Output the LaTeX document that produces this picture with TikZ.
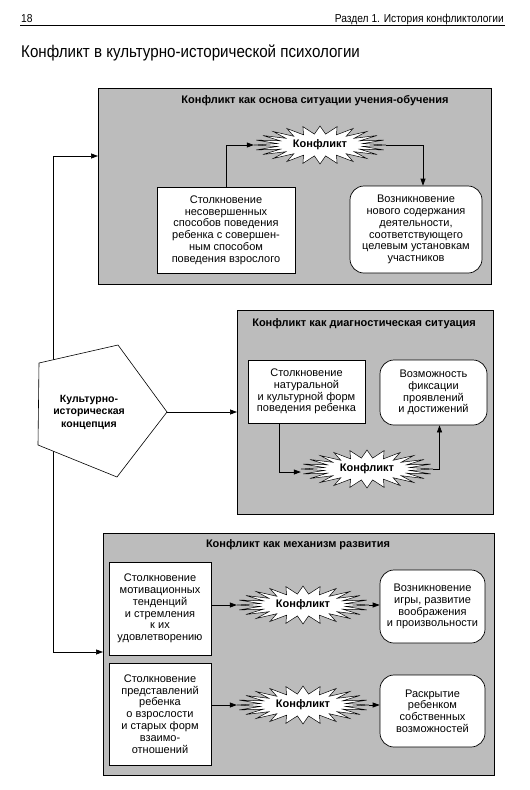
\documentclass[tikz,border=0pt]{standalone}
\usepackage{fontspec}
\setmainfont{Liberation Sans}
\newfontfamily\narrowfont{Liberation Sans}[FakeStretch=0.89]
\usetikzlibrary{calc,arrows.meta}

\definecolor{panelgray}{RGB}{188,188,188}

% starburst behind a "Конфликт" node
\newcommand{\burst}[1]{%
  \draw[burstline] ($(#1)+(0:66pt and 19pt)$)
    \foreach \a in {0,15,...,345} {
      -- ($(#1)+(\a+7.5:43pt and 11pt)$) -- ($(#1)+(\a+15:66pt and 19pt)$)
    } -- cycle;}

\begin{document}
\begin{tikzpicture}[x=1pt,y=-1pt]
    \tikzstyle{panel}=[draw=black,fill=panelgray,line width=1.1pt,anchor=north west,inner sep=0pt]
    \tikzstyle{ptitle}=[font=\bfseries\fontsize{11}{12}\selectfont]
    \tikzstyle{sqbox}=[draw=black,fill=white,line width=0.7pt,align=center,inner sep=0pt,
                       font=\fontsize{11}{11.8}\selectfont]
    \tikzstyle{rndbox}=[sqbox,rounded corners=14pt]
    \tikzstyle{burstline}=[draw=black,fill=white,line width=0.5pt,line join=miter]
    \tikzstyle{conf}=[font=\bfseries\fontsize{11}{12}\selectfont,minimum width=132pt,minimum height=38pt,inner sep=0pt]
    \tikzstyle{arr}=[-{Triangle[length=7pt,width=5pt]},line width=0.7pt]
    \useasboundingbox (0,0) rectangle (530,790);

    % page head
    \node[anchor=base west,inner sep=0pt,font=\narrowfont\fontsize{11.5}{12}\selectfont] (pagenum) at (21,22) {18};
    \node[anchor=base east,inner sep=0pt,font=\narrowfont\fontsize{11.5}{12}\selectfont] (section) at (504,22) {Раздел 1. История конфликтологии};
    \draw[line width=1pt] (20,25.5) -- (505,25.5);
    \node[anchor=base west,inner sep=0pt,font=\narrowfont\fontsize{17}{18}\selectfont] (title) at (21,57) {Конфликт в культурно-исторической психологии};

    % the three panels
    \node[panel,minimum width=393pt,minimum height=196pt] (P-1) at (98,88) {};
    \node[panel,minimum width=256pt,minimum height=204pt] (P-2) at (237,310) {};
    \node[panel,minimum width=391pt,minimum height=242pt] (P-3) at (103,533) {};
    \node[ptitle] (T-1) at (315,101) {Конфликт как основа ситуации учения-обучения};
    \node[ptitle] (T-2) at (364,324) {Конфликт как диагностическая ситуация};
    \node[ptitle] (T-3) at (298,545) {Конфликт как механизм развития};

    % boxes
    \node[sqbox,minimum width=138pt,minimum height=86pt] (L-1) at (226,230)
        {Столкновение\\несовершенных\\способов поведения\\ребенка с совершен-\\ным способом\\поведения взрослого};
    \node[rndbox,minimum width=132pt,minimum height=87pt] (R-1) at (416,229.5)
        {Возникновение\\нового содержания\\деятельности,\\соответствующего\\целевым установкам\\участников};
    \node[sqbox,minimum width=117pt,minimum height=63pt] (L-2) at (306.5,391.5)
        {Столкновение\\натуральной\\и культурной форм\\поведения ребенка};
    \node[rndbox,minimum width=107pt,minimum height=65pt] (R-2) at (433.5,392.5)
        {Возможность\\фиксации\\проявлений\\и достижений};
    \node[sqbox,minimum width=102pt,minimum height=93pt] (L-3) at (160,608.5)
        {Столкновение\\мотивационных\\тенденций\\и стремления\\к их\\удовлетворению};
    \node[rndbox,minimum width=105pt,minimum height=73pt] (R-3) at (432.5,606.5)
        {Возникновение\\игры, развитие\\воображения\\и произвольности};
    \node[sqbox,minimum width=102pt,minimum height=102pt] (L-4) at (160,714)
        {Столкновение\\представлений\\ребенка\\о взрослости\\и старых форм\\взаимо-\\отношений};
    \node[rndbox,minimum width=105pt,minimum height=72pt] (R-4) at (432.5,711)
        {Раскрытие\\ребенком\\собственных\\возможностей};

    % conflicts
    \foreach \num/\x/\y in {1/320/145, 2/367/469, 3/303/605, 4/303/705}{
        \burst{\x,\y}
        \node[conf] (K-\num) at (\x,\y) {Конфликт};
    }

    \draw[arr] (L-1.north) |- (K-1.west);
    \draw[arr] (K-1.east) -| ([xshift=7pt]R-1.north);
    \draw[arr] ([xshift=-27pt]L-2.south) |- ([yshift=-3pt]K-2.west);
    \draw[arr] (K-2.east) -| ([xshift=6pt]R-2.south);
    \draw[arr] (K-3.west -| L-3.east) -- (K-3.west);
    \draw[arr] (K-3.east) -- (K-3.east -| R-3.west);
    \draw[arr] (K-4.west -| L-4.east) -- (K-4.west);
    \draw[arr] (K-4.east) -- (K-4.east -| R-4.west);

    % concept pentagon and its links
    \coordinate (up) at (53,156);
    \coordinate (down) at (53,652);
    \coordinate (tip) at (167,412);
    \draw[line width=0.7pt] (up) -- (down);
    \draw[arr] (up) -- (up -| P-1.west);
    \draw[arr] (down) -- (down -| P-3.west);
    \draw[fill=white,line width=0.6pt] (118,345) -- (tip) -- (117,477) -- (38,445) -- (39,363) -- cycle;
    \node[align=center,font=\bfseries\fontsize{10.5}{12.5}\selectfont] (concept) at (89,412) {Культурно-\\историческая\\концепция};
    \draw[arr] (tip) -- (tip -| P-2.west);
\end{tikzpicture}
\end{document}
